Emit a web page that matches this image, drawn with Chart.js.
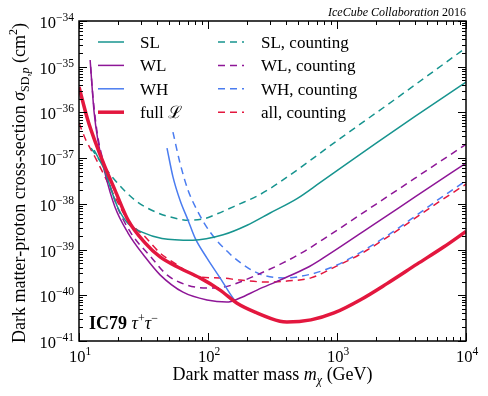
<!DOCTYPE html>
<html>
<head>
<meta charset="utf-8">
<script src="https://cdn.jsdelivr.net/npm/chart.js@4.4.0/dist/chart.umd.min.js"></script>
<style>
  html, body { margin: 0; padding: 0; background: #fff; }
</style>
</head>
<body>
<canvas id="limitChart" width="488" height="396"></canvas>
<script>
// IC79 tau+tau- spin-dependent limits

// Axis ticks (decades)
const massTicks = [10, 100, 1000, 10000];
const sigmaTicks = [1e-41, 1e-40, 1e-39, 1e-38, 1e-37, 1e-36, 1e-35, 1e-34];

// SL
const slMass = [13.1, 14.0, 15.9, 17.7, 20.1, 24.0, 30.8, 44, 76.5, 131, 201, 303, 490, 738, 2000, 4000, 10000];
const slSigma = [1.5e-37, 1.06e-37, 5.2e-38, 2.1e-38, 8.0e-39, 3.7e-39, 2.4e-39, 1.75e-39, 1.6e-39, 2.1e-39, 3.4e-39, 6.3e-39, 1.3e-38, 2.9e-38, 2.1e-37, 8.1e-37, 4.6e-36];

// WL
const wlMass = [12.2, 13.1, 14.0, 15.9, 19.0, 24.0, 32.5, 42.5, 64.0, 98.2, 140, 177, 240, 361, 585, 738, 2000, 4000, 10000];
const wlSigma = [1.4e-35, 1.0e-36, 2.5e-37, 4.7e-38, 8.5e-39, 2.3e-39, 6.9e-40, 2.8e-40, 1.17e-40, 7.9e-41, 7.1e-41, 8.7e-41, 1.3e-40, 2.15e-40, 4.0e-40, 5.9e-40, 3.8e-39, 1.4e-38, 7.8e-38];

// WH
const whMass = [48.1, 53.5, 60.7, 70.0, 79.3, 98.2, 124, 156, 168];
const whSigma = [1.66e-37, 3.9e-38, 1.2e-38, 4.4e-39, 1.8e-39, 6.5e-40, 2.4e-40, 8.7e-41, 6.7e-41];

// full likelihood
const fullMass = [10, 11.7, 13.5, 15.9, 19.0, 24.0, 32.5, 42.5, 60.7, 86.7, 124, 168, 240, 361, 409, 628, 948, 1535, 2440, 4170, 6750, 10000];
const fullSigma = [3.6e-36, 6.8e-37, 2.1e-37, 6.4e-38, 2.0e-38, 4.4e-39, 1.4e-39, 6.9e-40, 3.9e-40, 2.4e-40, 1.3e-40, 6.7e-41, 4.1e-41, 2.7e-41, 2.6e-41, 2.9e-41, 4.1e-41, 8.1e-41, 1.8e-40, 4.8e-40, 1.15e-39, 2.5e-39];

// SL, counting
const slcMass = [12.4, 14.8, 19.0, 27.2, 40.9, 55, 70, 95, 117, 168, 253, 361, 1000, 3000, 10000];
const slcSigma = [1.66e-37, 8.2e-38, 3.3e-38, 1.2e-38, 6.3e-39, 4.9e-39, 4.4e-39, 4.8e-39, 6.0e-39, 9.4e-39, 1.6e-38, 3.0e-38, 2.4e-37, 2.2e-36, 2.6e-35];

// WL, counting
const wlcMass = [12.3, 12.9, 14.0, 15.9, 19.3, 25.3, 36.1, 48.1, 68.7, 98.2, 131, 177, 240, 381, 545, 836, 2000, 4000, 10000];
const wlcSigma = [1.0e-35, 1.87e-36, 2.9e-37, 6.4e-38, 1.04e-38, 2.3e-39, 6.9e-40, 2.8e-40, 1.67e-40, 1.44e-40, 1.5e-40, 1.95e-40, 2.8e-40, 5.1e-40, 8.8e-40, 1.9e-39, 9.8e-39, 3.6e-38, 2.0e-37];

// WH, counting
const whcMass = [53.5, 60.7, 70.0, 82.2, 104, 148, 201, 262, 388, 628, 1000, 1500, 2300, 3700, 6000, 10000];
const whcSigma = [3.7e-37, 7.8e-38, 2.0e-38, 7.3e-39, 2.4e-39, 8.0e-40, 4.1e-40, 2.8e-40, 2.4e-40, 2.9e-40, 4.6e-40, 8.5e-40, 1.8e-39, 4.5e-39, 1.2e-38, 3.2e-38];

// all, counting
const allcMass = [10, 11.3, 13.3, 15.9, 19.0, 24.0, 32.5, 42.5, 53.5, 86.7, 124, 177, 287, 409, 628, 1000, 1500, 2300, 3700, 6000, 10000];
const allcSigma = [5.9e-37, 2.5e-37, 1.06e-37, 3.9e-38, 1.4e-38, 4.4e-39, 1.9e-39, 8.4e-40, 5.3e-40, 2.5e-40, 2.4e-40, 2.15e-40, 1.95e-40, 2.05e-40, 2.4e-40, 4.4e-40, 7.8e-40, 1.65e-39, 4.1e-39, 1.05e-38, 2.7e-38];

const SERIF = '"Liberation Serif", "DejaVu Serif", serif';
const TEAL = '#17948f';
const PURPLE = '#8e1697';
const BLUE = '#4a7cf0';
const RED = '#e3173e';

function series(label, mass, sigma, color, extra) {
  return Object.assign({
    label,
    data: mass.map((m, i) => ({ x: m, y: sigma[i] })),
    borderColor: color,
    backgroundColor: color,
    borderWidth: 1.5,
    fill: false,
    pointRadius: 0,
    cubicInterpolationMode: 'monotone',
    order: 1
  }, extra || {});
}

const dash = { borderDash: [7, 5] };

const datasets = [
  series('SL', slMass, slSigma, TEAL),
  series('WL', wlMass, wlSigma, PURPLE),
  series('WH', whMass, whSigma, BLUE),
  series('full \u2112', fullMass, fullSigma, RED, { borderWidth: 3.5, order: 0 }),
  series('SL, counting', slcMass, slcSigma, TEAL, dash),
  series('WL, counting', wlcMass, wlcSigma, PURPLE, dash),
  series('WH, counting', whcMass, whcSigma, BLUE, dash),
  series('all, counting', allcMass, allcSigma, RED, dash)
];

// Draw text runs: [{t, size, style, dy}]
function runs(ctx, parts, x, y, align) {
  const widths = parts.map(p => {
    ctx.font = (p.style || '') + ' ' + (p.size || 16) + 'px ' + SERIF;
    return ctx.measureText(p.t).width;
  });
  const total = widths.reduce((a, b) => a + b, 0);
  let cx = align === 'right' ? x - total : align === 'center' ? x - total / 2 : x;
  ctx.textAlign = 'left';
  ctx.textBaseline = 'alphabetic';
  parts.forEach((p, i) => {
    ctx.font = (p.style || '') + ' ' + (p.size || 16) + 'px ' + SERIF;
    ctx.fillText(p.t, cx, y + (p.dy || 0));
    cx += widths[i];
  });
}

function powParts(v) {
  const e = Math.round(Math.log10(v));
  return [{ t: '10', size: 16.5 }, { t: (e < 0 ? '\u2212' : '') + Math.abs(e), size: 11.5, dy: -7 }];
}

const framePlugin = {
  id: 'frame',
  afterDatasetsDraw(chart) {
    const { ctx, chartArea: a, scales: { x, y } } = chart;
    ctx.save();
    ctx.strokeStyle = '#000';
    ctx.fillStyle = '#000';

    // ticks, inward on all four sides
    ctx.lineWidth = 1;
    ctx.beginPath();
    massTicks.forEach((d, i) => {
      for (let k = 1; k <= 9; k++) {
        if (k > 1 && i === massTicks.length - 1) break;
        const px = Math.round(x.getPixelForValue(d * k)) + 0.5;
        const len = k === 1 ? 8 : 4;
        ctx.moveTo(px, a.bottom); ctx.lineTo(px, a.bottom - len);
        ctx.moveTo(px, a.top); ctx.lineTo(px, a.top + len);
      }
    });
    sigmaTicks.forEach((d, i) => {
      for (let k = 1; k <= 9; k++) {
        if (k > 1 && i === sigmaTicks.length - 1) break;
        const py = Math.round(y.getPixelForValue(d * k)) + 0.5;
        const len = k === 1 ? 8 : 4;
        ctx.moveTo(a.left, py); ctx.lineTo(a.left + len, py);
        ctx.moveTo(a.right, py); ctx.lineTo(a.right - len, py);
      }
    });
    ctx.stroke();

    // frame
    ctx.lineWidth = 1.5;
    ctx.strokeRect(a.left, a.top, a.right - a.left, a.bottom - a.top);

    // tick labels
    massTicks.forEach(v => runs(ctx, powParts(v), x.getPixelForValue(v) + 1, a.bottom + 21, 'center'));
    sigmaTicks.forEach(v => runs(ctx, powParts(v), a.left - 5, y.getPixelForValue(v) + 7, 'right'));

    // axis titles
    runs(ctx, [
      { t: 'Dark matter mass ', size: 18 },
      { t: 'm', style: 'italic', size: 18 },
      { t: '\u03c7', style: 'italic', size: 12, dy: 4 },
      { t: ' (GeV)', size: 18 }
    ], (a.left + a.right) / 2, a.bottom + 39, 'center');

    ctx.save();
    ctx.translate(25, (a.top + a.bottom) / 2 + 2);
    ctx.rotate(-Math.PI / 2);
    runs(ctx, [
      { t: 'Dark matter-proton cross-section ', size: 18 },
      { t: '\u03c3', style: 'italic', size: 18 },
      { t: 'SD,', size: 12, dy: 4 },
      { t: 'p', style: 'italic', size: 12, dy: 4 },
      { t: ' (cm', size: 18 },
      { t: '2', size: 12, dy: -8 },
      { t: ')', size: 18 }
    ], 0, 0, 'center');
    ctx.restore();

    // header and channel tag
    runs(ctx, [
      { t: 'IceCube Collaboration ', style: 'italic', size: 12 },
      { t: '2016', size: 12 }
    ], a.right, a.top - 5, 'right');
    runs(ctx, [
      { t: 'IC79 ', style: 'bold', size: 18 },
      { t: '\u03c4', style: 'italic', size: 18 },
      { t: '+', size: 12, dy: -7 },
      { t: '\u03c4', style: 'italic', size: 18 },
      { t: '\u2212', size: 12, dy: -7 }
    ], a.left + 10, a.bottom - 12, 'left');

    // legend: two columns (solid / counting)
    chart.data.datasets.forEach((ds, i) => {
      const col = i < 4 ? 0 : 1;
      const row = i % 4;
      const lx = col === 0 ? 98 : 218;
      const ly = 42 + row * 23.4;
      ctx.save();
      ctx.strokeStyle = ds.borderColor;
      ctx.lineWidth = ds.borderWidth;
      ctx.setLineDash(ds.borderDash || []);
      ctx.beginPath();
      ctx.moveTo(lx, ly);
      ctx.lineTo(lx + 26, ly);
      ctx.stroke();
      ctx.restore();
      runs(ctx, [{ t: ds.label, size: 17 }], lx + (col === 0 ? 42 : 43), ly + 6, 'left');
    });

    ctx.restore();
  }
};

new Chart(document.getElementById('limitChart'), {
  type: 'line',
  data: { datasets },
  options: {
    responsive: false,
    animation: false,
    devicePixelRatio: 1,
    layout: { padding: { left: 79, right: 22, top: 21, bottom: 55 } },
    plugins: { legend: { display: false }, tooltip: { enabled: false } },
    scales: {
      x: {
        type: 'logarithmic', min: 10, max: 10000,
        ticks: { display: false },
        grid: { display: false, drawTicks: false },
        border: { display: false }
      },
      y: {
        type: 'logarithmic', min: 1e-41, max: 1e-34,
        ticks: { display: false },
        grid: { display: false, drawTicks: false },
        border: { display: false }
      }
    }
  },
  plugins: [framePlugin]
});
</script>
</body>
</html>
